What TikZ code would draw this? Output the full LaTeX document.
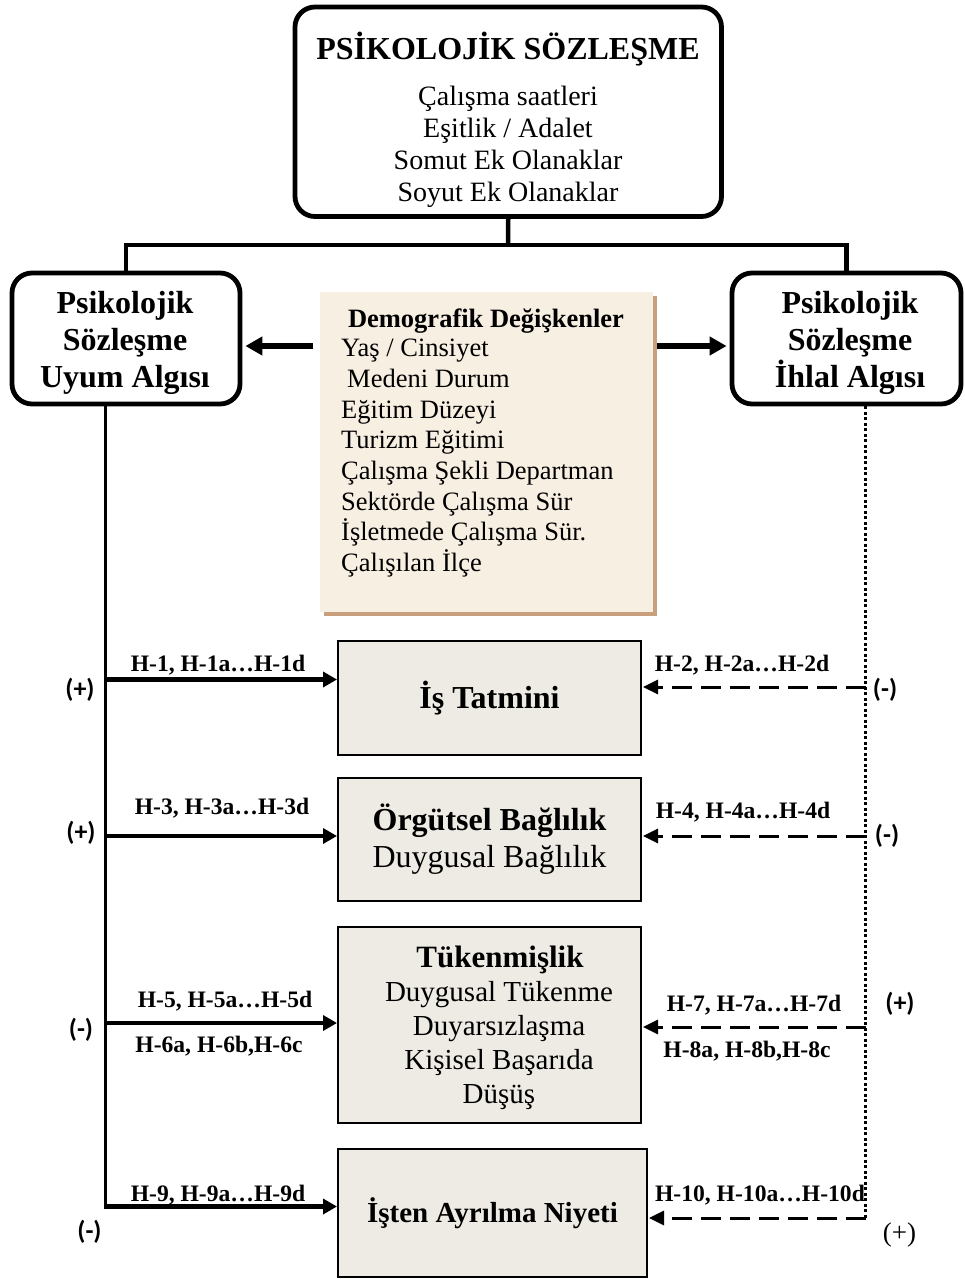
\documentclass[tikz,border=0pt]{standalone}
\usepackage{fontspec}
\setmainfont{Liberation Serif}
\newfontfamily\signfont{Carlito}
\usetikzlibrary{arrows.meta,shadows}
\definecolor{varfill}{HTML}{EEEBE4}
\definecolor{demofill}{HTML}{F8EFE3}
\definecolor{demoedge}{HTML}{C9A07E}
\newcommand{\fs}[2]{\fontsize{#1}{#2}\selectfont}

\begin{document}
\begin{tikzpicture}[x=1pt,y=-1pt,
  roundbox/.style={draw, line width=4.8pt, rounded corners=20pt, inner sep=0pt},
  varbox/.style={draw, line width=2pt, fill=varfill, inner sep=0pt, minimum width=303pt},
  demobox/.style={fill=demofill, inner sep=0pt, minimum width=333pt, minimum height=320pt,
     general shadow={fill=demoedge, shadow xshift=4pt, shadow yshift=-4pt}},
  hlabel/.style={font=\fs{23.6}{27}\bfseries, anchor=base, inner sep=0pt},
  sign/.style={font=\signfont\bfseries\fs{26}{30}, inner sep=0pt},
  link/.style={line width=4.5pt},
  trunk/.style={line width=3pt},
  uyumarrow/.style={line width=4.5pt, -{Triangle[length=14pt,width=15pt]}},
  ihlalarrow/.style={line width=3pt, dash pattern=on 20pt off 9pt, -{Triangle[length=15pt,width=14pt]}, shorten >=1pt},
  dotline/.style={line width=3pt, dash pattern=on 3pt off 2.5pt},
  demoarrow/.style={line width=6pt, -{Triangle[length=17pt,width=18pt]}, shorten >=3pt},
]
\useasboundingbox (0,0) rectangle (964,1279);

% psychological contract box
\node[roundbox, minimum width=426.5pt, minimum height=209.5pt] (contract) at (508.25,111.75) {};
\node[font=\fs{32}{36}\bfseries, anchor=base, inner sep=0pt] (contracttitle) at (508,60) {PSİKOLOJİK SÖZLEŞME};
\node[font=\fs{28}{32}, align=center, anchor=north, inner sep=0pt] (contractitems) at (508,86)
  {Çalışma saatleri\\Eşitlik / Adalet\\Somut Ek Olanaklar\\Soyut Ek Olanaklar};

% perception boxes
\node[roundbox, minimum width=228pt, minimum height=131pt] (uyum) at (126,338.5) {};
\node[font=\fs{32}{37}\bfseries, align=center, anchor=north, inner sep=0pt] (uyumtext) at (125,291)
  {Psikolojik\\Sözleşme\\Uyum Algısı};
\node[roundbox, minimum width=229pt, minimum height=131pt] (ihlal) at (846.5,338.5) {};
\node[font=\fs{32}{37}\bfseries, align=center, anchor=north, inner sep=0pt] (ihlaltext) at (850,291)
  {Psikolojik\\Sözleşme\\İhlal Algısı};

% tree from the contract to both perceptions
\coordinate (split) at (508,245);
\draw[link] (contract.south) -- (split);
\draw[link] (uyum.north) |- (split) -| (ihlal.north);

% demographic variables
\node[demobox] (demo) at (486.5,452) {};
\node[font=\fs{26.5}{30.7}\bfseries, anchor=base, inner sep=0pt] (demotitle) at (486,327) {Demografik Değişkenler};
\node[font=\fs{26.5}{30.7}, align=left, anchor=north west, inner sep=0pt] (demoitems) at (341,339)
  {Yaş / Cinsiyet\\\hspace*{6pt}Medeni Durum\\Eğitim Düzeyi\\Turizm Eğitimi\\Çalışma Şekli Departman\\Sektörde Çalışma Sür\\İşletmede Çalışma Sür.\\Çalışılan İlçe};
\coordinate (dl) at (313,346);
\coordinate (dr) at (657,346);
\draw[demoarrow] (dl) -- (dl -| uyum.east);
\draw[demoarrow] (dr) -- (dr -| ihlal.west);

% outcome variables
\node[varbox, minimum height=114pt, font=\fs{32}{37}\bfseries] (sat) at (489.5,698) {İş Tatmini};
\node[varbox, minimum height=123pt, font=\fs{32}{37}, align=center] (bag) at (489.5,839.5)
  {\textbf{Örgütsel Bağlılık}\\Duygusal Bağlılık};
\node[varbox, minimum height=196pt] (tuk) at (489.5,1025) {};
\node[font=\fs{31}{34}\bfseries, anchor=base, inner sep=0pt] (tuktitle) at (500,967) {Tükenmişlik};
\node[font=\fs{29}{34}, align=center, anchor=north, inner sep=0pt] (tukitems) at (499,981)
  {Duygusal Tükenme\\Duyarsızlaşma\\Kişisel Başarıda\\Düşüş};
\node[varbox, minimum width=309pt, minimum height=128pt, font=\fs{29}{34}\bfseries] (niyet) at (492.5,1213) {İşten Ayrılma Niyeti};

% fulfilment paths (solid)
\coordinate (ubase) at (105.5,1206.5);
\coordinate (u1) at (105.5,679.5);
\coordinate (u2) at (105.5,836);
\coordinate (u3) at (105.5,1023);
\draw[trunk] (uyum.south -| ubase) -- ([yshift=-1.5pt]ubase);
\draw[uyumarrow] ([xshift=-1.5pt]ubase) -- (ubase -| niyet.west);
\draw[uyumarrow] (u1) -- (u1 -| sat.west);
\draw[uyumarrow] (u2) -- (u2 -| bag.west);
\draw[uyumarrow] (u3) -- (u3 -| tuk.west);

% breach paths (dashed)
\coordinate (ibase) at (865.5,1218);
\coordinate (i1) at (865.5,687);
\coordinate (i2) at (865.5,836);
\coordinate (i3) at (865.5,1027);
\draw[dotline] (ihlal.south -| ibase) -- (ibase);
\draw[ihlalarrow] (i1) -- (i1 -| sat.east);
\draw[ihlalarrow] (i2) -- (i2 -| bag.east);
\draw[ihlalarrow] (i3) -- (i3 -| tuk.east);
\draw[ihlalarrow] (ibase) -- (ibase -| niyet.east);

% hypothesis labels
\node[hlabel] (h1) at (218,671) {H-1, H-1a…H-1d};
\node[hlabel] (h2) at (742,671) {H-2, H-2a…H-2d};
\node[hlabel] (h3) at (222,814) {H-3, H-3a…H-3d};
\node[hlabel] (h4) at (743,818) {H-4, H-4a…H-4d};
\node[hlabel] (h5) at (225,1007) {H-5, H-5a…H-5d};
\node[hlabel] (h6) at (219,1052) {H-6a, H-6b,H-6c};
\node[hlabel] (h7) at (754,1011) {H-7, H-7a…H-7d};
\node[hlabel] (h8) at (747,1057) {H-8a, H-8b,H-8c};
\node[hlabel] (h9) at (218,1201) {H-9, H-9a…H-9d};
\node[hlabel] (h10) at (760,1201) {H-10, H-10a…H-10d};

% expected signs
\node[sign] (s1) at (80,690) {(+)};
\node[sign] (s2) at (81,833) {(+)};
\node[sign] (s3) at (81,1030) {(-)};
\node[sign] (s4) at (89.5,1232) {(-)};
\node[sign] (r1) at (885,690) {(-)};
\node[sign] (r2) at (887,836) {(-)};
\node[sign] (r3) at (900,1004) {(+)};
\node[font=\fs{27}{30}, inner sep=0pt] (r4) at (899.5,1235) {(+)};
\end{tikzpicture}
\end{document}
